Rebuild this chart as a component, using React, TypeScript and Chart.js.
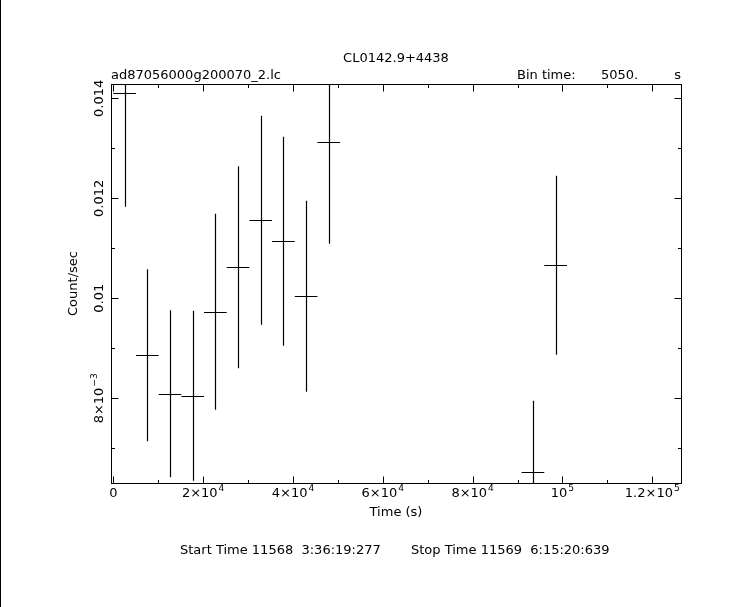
import React, { useEffect, useRef } from "react";
import { Chart, registerables } from "chart.js";

Chart.register(...registerables);

// ---- data ----
const times = [2525, 7575, 12625, 17675, 22725, 27775, 32825, 37875, 42925, 47975, 93425, 98475];
const rates = [0.0141, 0.00886, 0.00809, 0.00805, 0.00973, 0.01062, 0.01156, 0.01114, 0.01004, 0.01313, 0.00652, 0.01066];
const rateErrors = [0.00227, 0.00172, 0.00167, 0.0017, 0.00196, 0.00202, 0.00209, 0.00209, 0.00191, 0.00204, 0.00143, 0.00179];
const halfBin = 2525;

const xMajorTicks = [0, 20000, 40000, 60000, 80000, 100000, 120000];
const xMinorTicks = [10000, 30000, 50000, 70000, 90000, 110000];
const xTickBase = ["0", "2×10", "4×10", "6×10", "8×10", "10", "1.2×10"];
const xTickExp = ["", "4", "4", "4", "4", "5", "5"];

const yMajorTicks = [0.008, 0.01, 0.012, 0.014];
const yMinorTicks = [0.007, 0.009, 0.011, 0.013];
const yTickBase = ["8×10", "0.01", "0.012", "0.014"];
const yTickExp = ["−3", "", "", ""];

const titleText = "CL0142.9+4438";
const fileText = "ad87056000g200070_2.lc";
const binLabel = "Bin time:";
const binValue = "5050.";
const binUnit = "s";
const xTitle = "Time (s)";
const yTitle = "Count/sec";
const startText = "Start Time 11568  3:36:19:277";
const stopText = "Stop Time 11569  6:15:20:639";

const FONT_FAMILY = '"DejaVu Sans", sans-serif';
const FS = 13;

function drawSupLabel(ctx: CanvasRenderingContext2D, base: string, exp: string, cx: number, baseline: number) {
  ctx.font = `${FS}px ${FONT_FAMILY}`;
  const w1 = ctx.measureText(base).width;
  ctx.font = `${FS * 0.7}px ${FONT_FAMILY}`;
  const w2 = exp ? ctx.measureText(exp).width + 1 : 0;
  const left = cx - (w1 + w2) / 2;
  ctx.textAlign = "left";
  ctx.textBaseline = "alphabetic";
  ctx.font = `${FS}px ${FONT_FAMILY}`;
  ctx.fillText(base, left, baseline);
  if (exp) {
    ctx.font = `${FS * 0.7}px ${FONT_FAMILY}`;
    ctx.fillText(exp, left + w1 + 1, baseline - FS * 0.45);
  }
}

const pgplotPlugin = {
  id: "pgplot",
  beforeDraw(chart: any) {
    const ctx = chart.ctx as CanvasRenderingContext2D;
    ctx.save();
    ctx.fillStyle = "#ffffff";
    ctx.fillRect(0, 0, chart.width, chart.height);
    ctx.restore();
  },
  afterDraw(chart: any) {
    const ctx = chart.ctx as CanvasRenderingContext2D;
    const { left, right, top, bottom } = chart.chartArea;
    const xs = chart.scales.x;
    const ys = chart.scales.y;
    ctx.save();
    ctx.strokeStyle = "#000";
    ctx.fillStyle = "#000";
    ctx.lineWidth = 1;

    // left edge line of the window
    ctx.fillRect(0, 0, 1, chart.height);

    // frame
    ctx.strokeRect(left + 0.5, top + 0.5, right - left, bottom - top);

    const major = 7;
    const minor = 3.5;
    ctx.beginPath();
    const xTick = (v: number, len: number) => {
      const px = Math.round(xs.getPixelForValue(v)) + 0.5;
      ctx.moveTo(px, bottom + 0.5);
      ctx.lineTo(px, bottom + 0.5 - len);
      ctx.moveTo(px, top + 0.5);
      ctx.lineTo(px, top + 0.5 + len);
    };
    const yTick = (v: number, len: number) => {
      const py = Math.round(ys.getPixelForValue(v)) + 0.5;
      ctx.moveTo(left + 0.5, py);
      ctx.lineTo(left + 0.5 + len, py);
      ctx.moveTo(right + 0.5, py);
      ctx.lineTo(right + 0.5 - len, py);
    };
    xMajorTicks.forEach((v) => xTick(v, major));
    xMinorTicks.forEach((v) => xTick(v, minor));
    yMajorTicks.forEach((v) => yTick(v, major));
    yMinorTicks.forEach((v) => yTick(v, minor));
    ctx.stroke();

    // error-bar crosses
    ctx.save();
    ctx.beginPath();
    ctx.rect(left, top, right - left + 1, bottom - top + 1);
    ctx.clip();
    ctx.beginPath();
    for (let i = 0; i < times.length; i++) {
      const cx = Math.round(xs.getPixelForValue(times[i])) + 0.5;
      const cy = Math.round(ys.getPixelForValue(rates[i])) + 0.5;
      const x0 = xs.getPixelForValue(times[i] - halfBin);
      const x1 = xs.getPixelForValue(times[i] + halfBin);
      const y0 = ys.getPixelForValue(rates[i] - rateErrors[i]);
      const y1 = ys.getPixelForValue(rates[i] + rateErrors[i]);
      ctx.moveTo(x0, cy);
      ctx.lineTo(x1, cy);
      ctx.moveTo(cx, y0);
      ctx.lineTo(cx, y1);
    }
    ctx.lineWidth = 1.2;
    ctx.stroke();
    ctx.restore();

    // x tick labels
    xMajorTicks.forEach((v, i) => {
      drawSupLabel(ctx, xTickBase[i], xTickExp[i], xs.getPixelForValue(v), 497);
    });

    // y tick labels (rotated)
    yMajorTicks.forEach((v, i) => {
      ctx.save();
      ctx.translate(103, ys.getPixelForValue(v));
      ctx.rotate(-Math.PI / 2);
      drawSupLabel(ctx, yTickBase[i], yTickExp[i], 0, 0);
      ctx.restore();
    });

    ctx.font = `${FS}px ${FONT_FAMILY}`;
    ctx.textBaseline = "alphabetic";
    const midX = (left + right) / 2;

    // axis titles
    ctx.textAlign = "center";
    ctx.fillText(xTitle, midX, 516);
    ctx.save();
    ctx.translate(77, (top + bottom) / 2);
    ctx.rotate(-Math.PI / 2);
    ctx.fillText(yTitle, 0, 0);
    ctx.restore();

    // header
    ctx.fillText(titleText, midX, 62);
    ctx.textAlign = "left";
    ctx.fillText(fileText, 111, 78.5);
    ctx.fillText(binLabel, 517, 78.5);
    ctx.fillText(binValue, 601, 78.5);
    ctx.textAlign = "right";
    ctx.fillText(binUnit, 681, 78.5);

    // footer
    ctx.textAlign = "left";
    ctx.fillText(startText, 180, 553.5);
    ctx.fillText(stopText, 411, 553.5);

    ctx.restore();
  },
};

export default function App() {
  const canvasRef = useRef<HTMLCanvasElement | null>(null);

  useEffect(() => {
    if (!canvasRef.current) return;
    const chart = new Chart(canvasRef.current, {
      type: "scatter",
      data: {
        datasets: [
          {
            label: "rate",
            data: times.map((t, i) => ({ x: t, y: rates[i] })),
            pointRadius: 0,
            showLine: false,
          },
        ],
      },
      options: {
        animation: false,
        responsive: false,
        devicePixelRatio: 1,
        events: [],
        layout: { padding: { left: 111, right: 62, top: 84, bottom: 124 } },
        plugins: {
          legend: { display: false },
          tooltip: { enabled: false },
          title: { display: false },
        },
        scales: {
          x: { type: "linear", display: false, min: -512, max: 126390 },
          y: { type: "linear", display: false, min: 0.006306, max: 0.014286 },
        },
      },
      plugins: [pgplotPlugin],
    });
    return () => chart.destroy();
  }, []);

  return (
    <div style={{ position: "fixed", left: 0, top: 0, width: 743, height: 607, background: "#fff" }}>
      <canvas ref={canvasRef} width={743} height={607} style={{ display: "block" }} />
    </div>
  );
}
